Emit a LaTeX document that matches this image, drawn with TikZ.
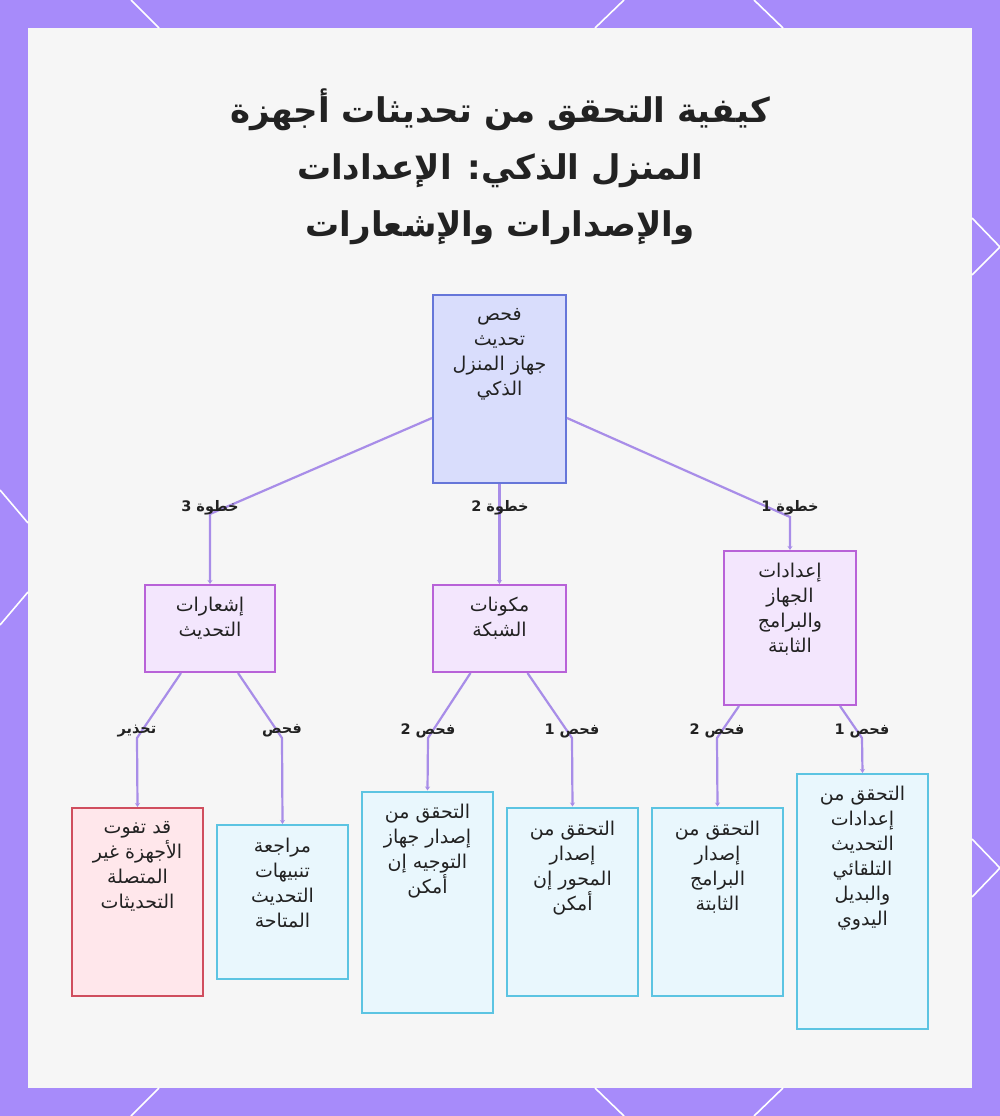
\documentclass[tikz,border=0pt]{standalone}
\usepackage{fontspec}
\usetikzlibrary{arrows.meta}
\newfontfamily\arabicfont[Script=Arabic]{DejaVu Sans}
\TeXXeTstate=1
\newcommand\ar[1]{\beginR #1\endR}
\definecolor{framec}{HTML}{A78BFA}
\definecolor{panelc}{HTML}{F6F6F6}
\definecolor{rootfill}{HTML}{D9DDFC}
\definecolor{rootline}{HTML}{6676D9}
\definecolor{purfill}{HTML}{F3E6FD}
\definecolor{purline}{HTML}{B862D8}
\definecolor{redfill}{HTML}{FFE7EB}
\definecolor{redline}{HTML}{D04E5E}
\definecolor{cyanfill}{HTML}{E9F7FD}
\definecolor{cyanline}{HTML}{5CC4E2}
\definecolor{edgec}{HTML}{A88DE8}
\definecolor{ink}{HTML}{222222}
\tikzset{
  boxbase/.style={draw, line width=2pt, inner sep=0pt},
  rootbox/.style={boxbase, fill=rootfill, draw=rootline},
  purbox/.style={boxbase, fill=purfill, draw=purline},
  redbox/.style={boxbase, fill=redfill, draw=redline},
  cyanbox/.style={boxbase, fill=cyanfill, draw=cyanline},
  boxtext/.style={font=\arabicfont\fontsize{19}{25}\selectfont, text=ink, align=center, anchor=north, inner sep=0pt},
  elabel/.style={font=\arabicfont\bfseries\fontsize{14.5}{16}\selectfont, text=ink, inner sep=1pt},
  edge/.style={draw=edgec, line width=2.2pt, -{Stealth[length=4pt,width=5pt]}},
  frameline/.style={draw=white, line width=1.6pt},
}
\begin{document}
\begin{tikzpicture}[x=1pt,y=-1pt]
\useasboundingbox (0,0) rectangle (1000,1116);
\fill[framec] (0,0) rectangle (1000,1116);
\fill[panelc] (28,28) rectangle (972,1088);
% frame decorations
\draw[frameline] (131,0) -- (159,28);
\draw[frameline] (624,0) -- (595,28);
\draw[frameline] (754,0) -- (783,28);
\draw[frameline] (159,1088) -- (131,1116);
\draw[frameline] (595,1088) -- (624,1116);
\draw[frameline] (783,1088) -- (754,1116);
\draw[frameline] (0,490) -- (28,523);
\draw[frameline] (28,592) -- (0,625);
\draw[frameline] (972,218) -- (1000,247) -- (972,275);
\draw[frameline] (972,839) -- (1000,868) -- (972,897);

% title
\node[font=\arabicfont\bfseries\fontsize{34}{57}\selectfont, text=ink, align=center] (title) at (500,167)
  {\ar{كيفية التحقق من تحديثات أجهزة}\\\ar{المنزل الذكي: الإعدادات}\\\ar{والإصدارات والإشعارات}};

% root
\node[rootbox, minimum width=133pt, minimum height=188pt] (root) at (499.5,389) {};
\node[boxtext] (roott) at (499.5,308) {\ar{فحص}\\\ar{تحديث}\\\ar{جهاز المنزل}\\\ar{الذكي}};

% level 2
\node[purbox, minimum width=130pt, minimum height=87pt] (n3) at (210,628.5) {};
\node[boxtext] (n3t) at (210,597) {\ar{إشعارات}\\\ar{التحديث}};
\node[purbox, minimum width=133pt, minimum height=87pt] (n2) at (499.5,628.5) {};
\node[boxtext] (n2t) at (499.5,597) {\ar{مكونات}\\\ar{الشبكة}};
\node[purbox, minimum width=132pt, minimum height=154pt] (n1) at (790,628) {};
\node[boxtext] (n1t) at (790,563) {\ar{إعدادات}\\\ar{الجهاز}\\\ar{والبرامج}\\\ar{الثابتة}};

% level 3
\node[redbox, minimum width=131pt, minimum height=188pt] (w1) at (137.5,902) {};
\node[boxtext] (w1t) at (137.5,821) {\ar{قد تفوت}\\\ar{الأجهزة غير}\\\ar{المتصلة}\\\ar{التحديثات}};
\node[cyanbox, minimum width=131pt, minimum height=154pt] (c1) at (282.5,902) {};
\node[boxtext] (c1t) at (282.5,838) {\ar{مراجعة}\\\ar{تنبيهات}\\\ar{التحديث}\\\ar{المتاحة}};
\node[cyanbox, minimum width=131pt, minimum height=221pt] (c2) at (427.5,902) {};
\node[boxtext] (c2t) at (427.5,804) {\ar{التحقق من}\\\ar{إصدار جهاز}\\\ar{التوجيه إن}\\\ar{أمكن}};
\node[cyanbox, minimum width=131pt, minimum height=188pt] (c3) at (572.5,901.5) {};
\node[boxtext] (c3t) at (572.5,821) {\ar{التحقق من}\\\ar{إصدار}\\\ar{المحور إن}\\\ar{أمكن}};
\node[cyanbox, minimum width=131pt, minimum height=188pt] (c4) at (717.5,901.5) {};
\node[boxtext] (c4t) at (717.5,821) {\ar{التحقق من}\\\ar{إصدار}\\\ar{البرامج}\\\ar{الثابتة}};
\node[cyanbox, minimum width=131pt, minimum height=255pt] (c5) at (862.5,901.5) {};
\node[boxtext] (c5t) at (862.5,786) {\ar{التحقق من}\\\ar{إعدادات}\\\ar{التحديث}\\\ar{التلقائي}\\\ar{والبديل}\\\ar{اليدوي}};

% bend points
\coordinate (b3) at (210,514);
\coordinate (b1) at (790,517);
\coordinate (bw) at (137,738);
\coordinate (bc1) at (282,738);
\coordinate (bc2) at (428,738);
\coordinate (bc3) at (572,738);
\coordinate (bc4) at (717,738);
\coordinate (bc5) at (862,738);

% edges
\draw[edge] ([yshift=-29pt]root.west) -- (b3) -- (n3.north);
\draw[edge] (root.south) -- (n2.north);
\draw[edge] ([yshift=-29pt]root.east) -- (b1) -- (n1.north);
\draw[edge] ([xshift=-29pt]n3.south) -- (bw) -- (w1.north);
\draw[edge] ([xshift=28pt]n3.south) -- (bc1) -- (c1.north);
\draw[edge] ([xshift=-29pt]n2.south) -- (bc2) -- (c2.north);
\draw[edge] ([xshift=28pt]n2.south) -- (bc3) -- (c3.north);
\draw[edge] ([xshift=-51pt]n1.south) -- (bc4) -- (c4.north);
\draw[edge] ([xshift=50pt]n1.south) -- (bc5) -- (c5.north);

% edge labels
\node[elabel] (l3) at (210,508) {\ar{خطوة 3}};
\node[elabel] (l2) at (500,508) {\ar{خطوة 2}};
\node[elabel] (l1) at (790,508) {\ar{خطوة 1}};
\node[elabel] (lw) at (137,731) {\ar{تحذير}};
\node[elabel] (lc1) at (282,731) {\ar{فحص}};
\node[elabel] (lc2) at (428,731) {\ar{فحص 2}};
\node[elabel] (lc3) at (572,731) {\ar{فحص 1}};
\node[elabel] (lc4) at (717,731) {\ar{فحص 2}};
\node[elabel] (lc5) at (862,731) {\ar{فحص 1}};
\end{tikzpicture}
\end{document}
